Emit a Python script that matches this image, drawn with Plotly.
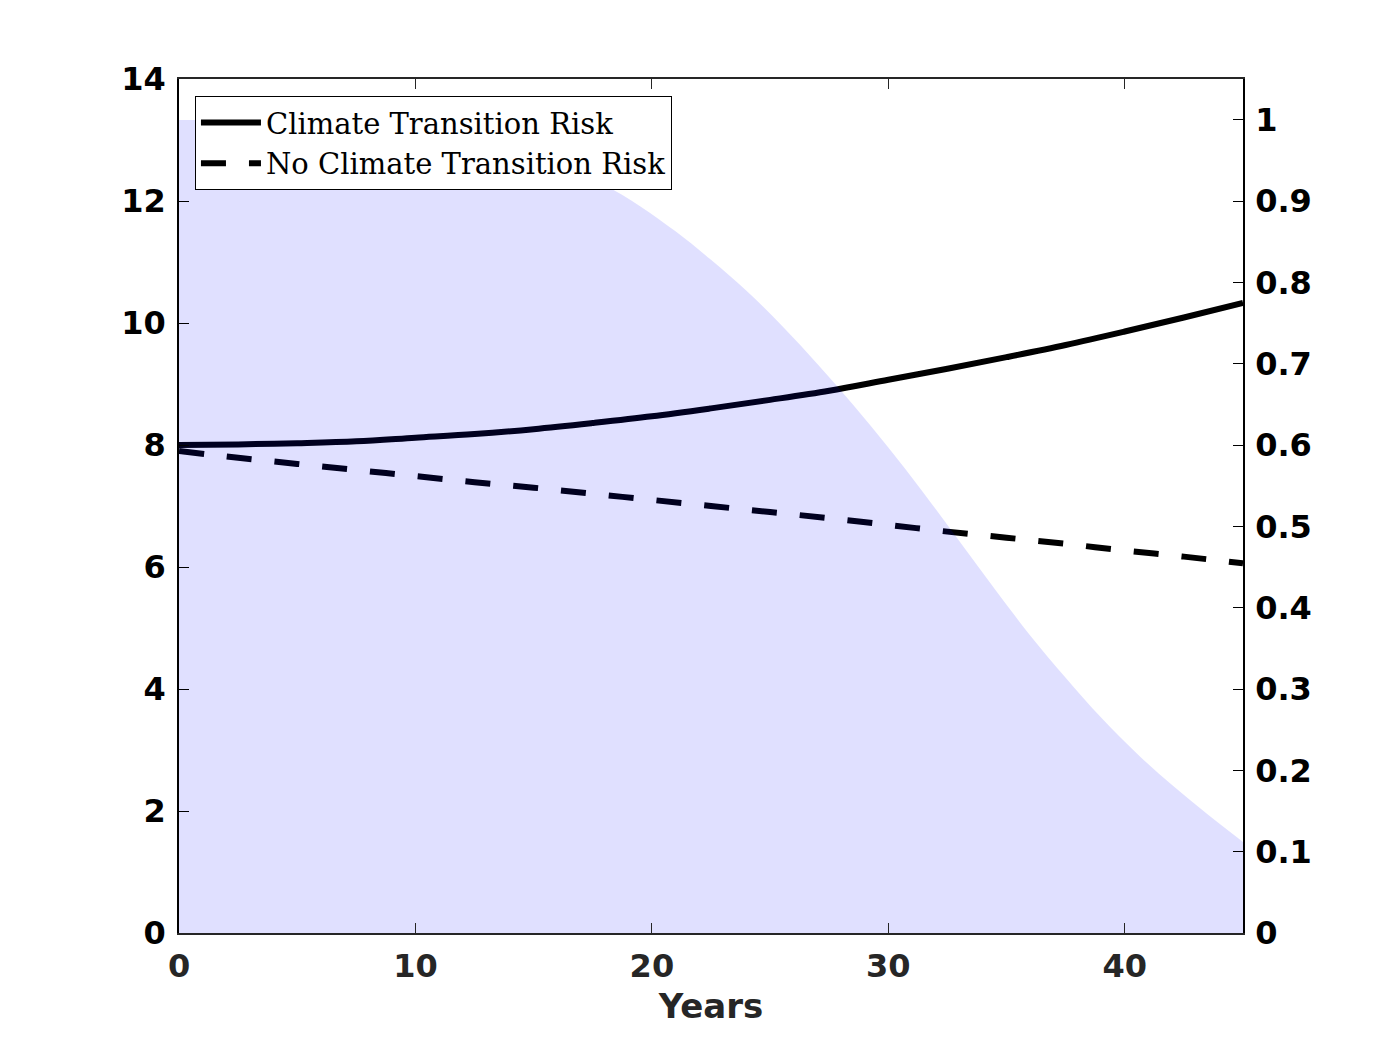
import plotly.graph_objects as go

# ---- data ----
years_lines = [0, 2.5, 5, 7.5, 10, 12.5, 15, 17.5, 20, 22.5, 25, 27.5, 30, 32.5, 35, 37.5, 40, 42.5, 45]
climate_risk = [8.00, 8.01, 8.03, 8.06, 8.12, 8.18, 8.26, 8.36, 8.47, 8.60, 8.74, 8.89, 9.07, 9.25, 9.44, 9.64, 9.86, 10.09, 10.33]
no_climate_risk = [7.90, 7.79, 7.69, 7.59, 7.49, 7.39, 7.30, 7.20, 7.10, 7.00, 6.90, 6.80, 6.69, 6.58, 6.48, 6.38, 6.27, 6.17, 6.06]

years_prob = [0, 1.5, 3, 4.5, 6, 7.5, 9, 10.5, 12, 13.5, 15, 16.5, 18, 19.5, 21, 22.5, 24, 25.5,
              27, 28.5, 30, 31.5, 33, 34.5, 36, 37.5, 39, 40.5, 42, 43.5, 45]
prob = [1.000, 1.000, 1.000, 0.999, 0.998, 0.996, 0.993, 0.988, 0.980, 0.970, 0.957, 0.940, 0.920,
        0.894, 0.863, 0.828, 0.790, 0.747, 0.700, 0.650, 0.597, 0.541, 0.482, 0.423, 0.366, 0.314,
        0.265, 0.221, 0.182, 0.146, 0.112]

x_ticks = [0, 10, 20, 30, 40]
y_left_ticks = [0, 2, 4, 6, 8, 10, 12, 14]
y_right_ticks = [0, 0.1, 0.2, 0.3, 0.4, 0.5, 0.6, 0.7, 0.8, 0.9, 1]
y_right_labels = ["0", "0.1", "0.2", "0.3", "0.4", "0.5", "0.6", "0.7", "0.8", "0.9", "1"]

TICK_FONT = "DejaVu Sans"
fig = go.Figure()

fig.add_trace(go.Scatter(
    x=years_lines, y=climate_risk, mode="lines", name="Climate Transition Risk",
    line=dict(color="black", width=6, shape="spline"), yaxis="y"))
fig.add_trace(go.Scatter(
    x=years_lines, y=no_climate_risk, mode="lines", name="No Climate Transition Risk",
    line=dict(color="black", width=6, dash="25px,23px", shape="spline"), yaxis="y"))
fig.add_trace(go.Scatter(
    x=years_prob, y=prob, mode="lines", fill="tozeroy", showlegend=False,
    fillcolor="rgba(0,0,255,0.12)", line=dict(width=0, shape="spline", smoothing=1),
    yaxis="y2", hoverinfo="skip"))

fig.update_layout(
    width=1375, height=1050,
    margin=dict(l=171, r=140, t=71, b=125),
    paper_bgcolor="white", plot_bgcolor="white",
    showlegend=True,
    legend=dict(x=0.015, y=0.98, xanchor="left", yanchor="top",
                bgcolor="white", bordercolor="black", borderwidth=1,
                font=dict(family="DejaVu Serif", size=29, color="black"),
                itemwidth=60, tracegroupgap=0),
    xaxis=dict(range=[0, 45], tickvals=x_ticks, ticks="inside", ticklen=10,
               tickcolor="#262626", showline=True, linecolor="#262626", linewidth=1.5,
               mirror="ticks", showgrid=False, zeroline=False, ticklabelstandoff=4,
               tickfont=dict(family=TICK_FONT, size=32, color="#262626", weight="bold"),
               title=dict(text="<b>Years</b>", standoff=10,
                          font=dict(family=TICK_FONT, size=34, color="#262626"))),
    yaxis=dict(range=[0, 14], tickvals=y_left_ticks, ticks="inside", ticklen=10,
               tickcolor="black", showline=True, linecolor="black", linewidth=1.5,
               showgrid=False, zeroline=False, ticklabelstandoff=5,
               tickfont=dict(family=TICK_FONT, size=32, color="black", weight="bold")),
    yaxis2=dict(range=[0, 1.0504], tickvals=y_right_ticks, ticktext=y_right_labels,
                overlaying="y", side="right", ticks="inside", ticklen=10,
                tickcolor="black", showline=True, linecolor="black", linewidth=1.5,
                showgrid=False, zeroline=False, ticklabelstandoff=4,
                tickfont=dict(family=TICK_FONT, size=32, color="black", weight="bold")),
)

fig.write_html("out.html")
